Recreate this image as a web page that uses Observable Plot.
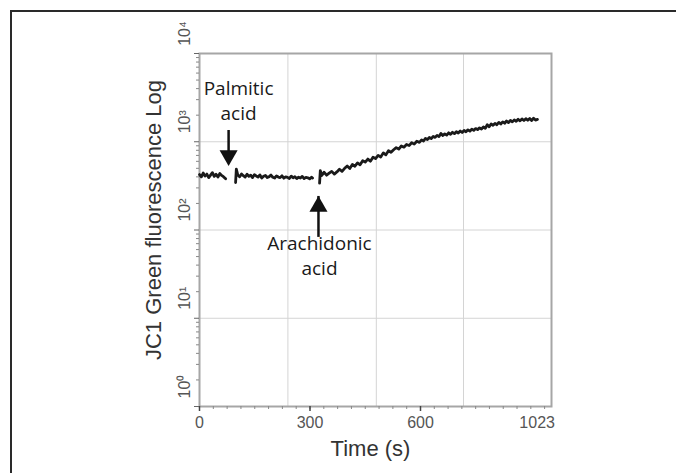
<!DOCTYPE html>
<html><head><meta charset="utf-8">
<script src="https://cdn.jsdelivr.net/npm/d3@7"></script>
<script src="https://cdn.jsdelivr.net/npm/@observablehq/plot@0.6"></script>
<style>
html,body{margin:0;padding:0;background:#fff;}
#wrap{position:relative;width:676px;height:473px;overflow:hidden;}
#border{position:absolute;left:10px;top:10px;width:700px;height:500px;border-top:2px solid #2a2a2a;border-left:2px solid #2a2a2a;}
#chart{position:absolute;left:0;top:0;}
</style></head><body>
<div id="wrap"><div id="border"></div><div id="chart"></div></div>
<script>
// ---- data (time in s, fluorescence in a.u., log scale) ----
const seg1Time = [0, 5, 10, 15, 20, 25, 30, 35, 40, 45, 50, 55, 60, 65, 71];
const seg1Val  = [425, 400, 442, 408, 430, 392, 418, 447, 405, 428, 398, 436, 415, 402, 380];

const seg2Time = [98, 100, 104, 109, 114, 119, 124, 129, 134, 139, 144, 149, 154, 159, 164, 169, 174, 179, 184, 189, 194, 199, 204, 209, 214, 219, 224, 229, 234, 239, 244, 249, 254, 259, 264, 269, 274, 279, 284, 289, 294, 299, 304, 307];
const seg2Val  = [345, 490, 420, 400, 432, 412, 398, 428, 405, 418, 392, 424, 410, 399, 421, 388, 406, 415, 393, 402, 419, 396, 388, 410, 398, 392, 412, 386, 400, 395, 384, 408, 391, 402, 383, 397, 388, 405, 382, 394, 390, 380, 396, 388];

const seg3Time = [326, 328, 332, 338, 345, 352, 359, 366, 373, 380, 387, 394, 401, 408, 415, 422, 429, 436, 443, 450, 457, 464, 471, 478, 485, 492, 499, 506, 513, 520, 527, 534, 541, 548, 555, 562, 569, 576, 583, 590, 597, 604, 611, 618, 625, 632, 639, 646, 653, 660, 667, 674, 681, 688, 695, 702, 709, 716, 723, 730, 737, 744, 751, 758, 765, 772, 779, 786, 793, 800, 807, 814, 821, 828, 835, 842, 849, 856, 863, 870, 877, 884, 891, 898, 905, 912, 919, 926, 933, 940, 947, 954, 961, 968, 975, 982, 989, 996, 1003, 1010, 1017, 1024];
const seg3Val  = [340, 470, 415, 452, 418, 440, 462, 430, 455, 488, 462, 500, 530, 498, 552, 528, 575, 548, 610, 588, 636, 602, 668, 645, 700, 672, 748, 710, 792, 760, 812, 858, 826, 895, 868, 930, 905, 975, 940, 1012, 985, 1050, 1020, 1092, 1060, 1118, 1085, 1150, 1120, 1182, 1145, 1240, 1175, 1228, 1190, 1262, 1215, 1280, 1235, 1300, 1258, 1322, 1275, 1342, 1300, 1365, 1318, 1390, 1345, 1410, 1372, 1438, 1395, 1470, 1420, 1560, 1480, 1590, 1535, 1612, 1560, 1655, 1592, 1680, 1622, 1718, 1650, 1745, 1680, 1770, 1705, 1795, 1728, 1812, 1742, 1826, 1750, 1835, 1738, 1848, 1760, 1790];

// axis definition
const xBreaks = [0, 600, 1075];            // piecewise time axis of the original
const xTickLabels = [0, 300, 600, 1023];
const xMajorTicks = [0, 300, 600];
const xGridLines = [240, 480, 756];
const yDecades = [1, 10, 100, 1000, 10000];
const yGridLines = [10, 100, 1000];

// annotations
const arrowNames = ["Palmitic\nacid", "Arachidonic\nacid"];
const arrowTime  = [79, 323];
const arrowTail  = [1341, 107];
const arrowTip   = [538, 240];
const arrowDir   = ["down", "up"];

// ---- build tables ----
const series = [];
[[seg1Time, seg1Val], [seg2Time, seg2Val], [seg3Time, seg3Val]].forEach(([ts, vs], k) => {
  ts.forEach((t, i) => series.push({seg: k, t, v: vs[i]}));
});
const arrows = arrowNames.map((name, i) => ({name, t: arrowTime[i], tail: arrowTail[i], tip: arrowTip[i], dir: arrowDir[i]}));
const down = arrows.filter(d => d.dir === "down");
const up = arrows.filter(d => d.dir === "up");

const xMinor = d3.range(0, 600, 37.5).concat(d3.range(600, 1051, 50));
const yMinor = [];
for (const dec of [1, 10, 100, 1000]) for (let k = 2; k <= 9; k++) yMinor.push(dec * k);

const sup = {"0": "\u2070", "1": "\u00b9", "2": "\u00b2", "3": "\u00b3", "4": "\u2074"};
const fmtPow = d => "10" + sup[String(Math.round(Math.log10(d)))];

const W = 676, H = 473;
const mL = 199, mR = 125, mT = 53, mB = 67;

const chart = Plot.plot({
  width: W, height: H,
  marginLeft: mL, marginRight: mR, marginTop: mT, marginBottom: mB,
  style: {background: "transparent", fontFamily: "'Liberation Sans', Arial, sans-serif"},
  x: {type: "linear", domain: xBreaks, range: [mL, 420, W - mR]},
  y: {type: "log", domain: [1, 10000]},
  marks: [
    Plot.gridY(yGridLines, {stroke: "#d4d4d4", strokeOpacity: 1, strokeWidth: 1}),
    Plot.ruleX(xGridLines, {stroke: "#d4d4d4", strokeWidth: 1}),
    Plot.frame({stroke: "#a6a6a6", strokeWidth: 2}),
    Plot.axisX(xMinor, {tickSize: 3, tickFormat: () => "", label: null, color: "#888"}),
    Plot.axisX(xMajorTicks, {tickSize: 5, tickFormat: () => "", label: null, color: "#444", strokeWidth: 1.5}),
    Plot.axisX(xTickLabels, {tickSize: 0, tickPadding: 10, tickFormat: d => String(d), label: null, color: "#555", fontSize: 16}),
    Plot.axisY(yMinor, {tickSize: 3, tickFormat: () => "", label: null, color: "#888"}),
    Plot.axisY(yDecades, {tickSize: 5, tickFormat: () => "", label: null, color: "#666"}),
    Plot.text(yDecades, {y: d => d, text: fmtPow, frameAnchor: "left", textAnchor: "middle", lineAnchor: "middle", rotate: -90, dx: -15, dy: -20, fontSize: 16, fill: "#555"}),
    Plot.text(["JC1 Green fluorescence Log"], {text: d => d, frameAnchor: "left", textAnchor: "middle", lineAnchor: "middle", rotate: -90, dx: -46, dy: -10, fontSize: 22, fill: "#333"}),
    Plot.text(["Time (s)"], {text: d => d, frameAnchor: "bottom", dx: -5, dy: 49, fontSize: 22, fill: "#333"}),
    Plot.line(series, {x: "t", y: "v", z: "seg", stroke: "#1a1a1a", strokeWidth: 2.8, strokeLinejoin: "round"}),
    Plot.ruleX(down, {x: "t", y1: "tail", y2: "tip", insetBottom: 10, stroke: "#111", strokeWidth: 2.5}),
    Plot.ruleX(up, {x: "t", y1: "tail", y2: "tip", insetTop: 10, stroke: "#111", strokeWidth: 2.5}),
    Plot.dot(down, {x: "t", y: "tip", symbol: "triangle", r: 6.7, fill: "#111", stroke: null, rotate: 180, dy: -10}),
    Plot.dot(up, {x: "t", y: "tip", symbol: "triangle", r: 6.7, fill: "#111", stroke: null, dy: 10}),
    Plot.text(down, {x: "t", y: "tail", text: "name", lineAnchor: "bottom", dx: 10, dy: -11, lineHeight: 1.3, fontSize: 19, fontFamily: "'Open Sans', sans-serif", fill: "#1a1a1a"}),
    Plot.text(up, {x: "t", y: "tail", text: "name", lineAnchor: "top", dx: 1, dy: 5, lineHeight: 1.3, fontSize: 19, fontFamily: "'Open Sans', sans-serif", fill: "#1a1a1a"})
  ]
});
document.getElementById("chart").appendChild(chart);
</script></body></html>
